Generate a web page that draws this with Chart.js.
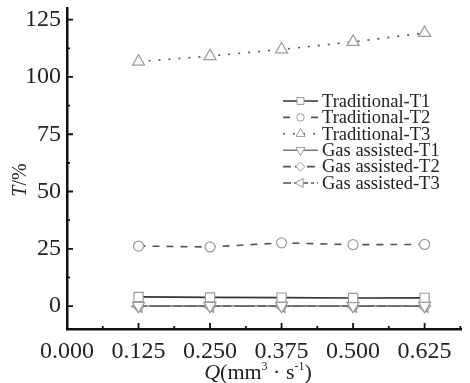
<!DOCTYPE html>
<html>
<head>
<meta charset="utf-8">
<script src="https://cdn.jsdelivr.net/npm/chart.js@4/dist/chart.umd.min.js"></script>
<style>
html, body { margin: 0; padding: 0; background: #fff; }
#wrap { width: 470px; height: 383px; position: relative; }
</style>
</head>
<body>
<div id="wrap"><canvas id="chart"></canvas></div>
<script>
const flowRates = [0.125, 0.250, 0.375, 0.500, 0.625];
const tradT1 = [4.0, 3.8, 3.7, 3.5, 3.6];
const tradT2 = [26.2, 25.8, 27.6, 26.8, 26.9];
const tradT3 = [106.7, 109.1, 112.0, 115.3, 119.2];
const gasT1 = [0.1, 0.1, 0.1, 0.1, 0.1];
const gasT2 = [0, 0, 0, 0, 0];
const gasT3 = [-0.1, -0.1, -0.1, -0.1, -0.1];

const xTicks = [0, 0.125, 0.25, 0.375, 0.5, 0.625];
const yTicks = [0, 25, 50, 75, 100, 125];
const seriesNames = ['Traditional-T1', 'Traditional-T2', 'Traditional-T3',
    'Gas assisted-T1', 'Gas assisted-T2', 'Gas assisted-T3'];

const SERIF = '"Liberation Serif", "Times New Roman", serif';
const MARK = '#9a9a9a';

const toPoints = vals => vals.map((v, i) => ({ x: flowRates[i], y: v }));

function series(label, vals, style) {
    return Object.assign({
        label: label,
        data: toPoints(vals),
        borderWidth: 1.6,
        pointBorderColor: MARK,
        pointBackgroundColor: '#fff',
        pointBorderWidth: 1.2,
        pointRadius: 5.5,
        tension: 0
    }, style);
}

const datasets = [
    series(seriesNames[0], tradT1, { borderColor: '#333', pointStyle: 'rect', pointRadius: 6.5 }),
    series(seriesNames[1], tradT2, { borderColor: '#555', borderDash: [7, 7], pointStyle: 'circle', pointRadius: 5 }),
    series(seriesNames[2], tradT3, { borderColor: '#555', borderDash: [2, 8], pointStyle: 'triangle', pointRadius: 7 }),
    series(seriesNames[3], gasT1, { borderColor: '#777', borderWidth: 1.2, pointStyle: 'triangle', pointRotation: 180, pointRadius: 7 }),
    series(seriesNames[4], gasT2, { borderColor: '#555', borderDash: [8, 4], pointStyle: 'rectRot', pointRadius: 6 }),
    series(seriesNames[5], gasT3, { borderColor: '#555', borderDash: [8, 3, 3, 3], pointStyle: 'triangle', pointRotation: -90, pointRadius: 7 })
];

// small tick marks pointing into the plot, majors and minors
const innerTicks = {
    id: 'innerTicks',
    afterDraw(chart) {
        const { ctx, chartArea, scales: { x, y } } = chart;
        ctx.save();
        ctx.strokeStyle = '#111';
        ctx.lineWidth = 1.8;
        ctx.beginPath();
        yTicks.forEach(v => {
            const py = y.getPixelForValue(v);
            ctx.moveTo(chartArea.left, py); ctx.lineTo(chartArea.left + 6, py);
            const m = v + 12.5;
            if (m <= y.max) {
                const pm = y.getPixelForValue(m);
                ctx.moveTo(chartArea.left, pm); ctx.lineTo(chartArea.left + 3, pm);
            }
        });
        xTicks.forEach(v => {
            const px = x.getPixelForValue(v);
            ctx.moveTo(px, chartArea.bottom); ctx.lineTo(px, chartArea.bottom - 6);
            const m = v + 0.0625;
            if (m <= x.max) {
                const pm = x.getPixelForValue(m);
                ctx.moveTo(pm, chartArea.bottom); ctx.lineTo(pm, chartArea.bottom - 3);
            }
        });
        ctx.stroke();
        ctx.restore();
    }
};

// legend: line segment with marker in the middle, then the name
const lineLegend = {
    id: 'lineLegend',
    afterDraw(chart) {
        const ctx = chart.ctx;
        const x0 = 283, x1 = 318, top = 101, step = 16.4;
        ctx.save();
        chart.data.datasets.forEach((ds, i) => {
            const yy = top + i * step;
            ctx.strokeStyle = ds.borderColor;
            ctx.lineWidth = 1.6;
            ctx.setLineDash(ds.borderDash || []);
            ctx.beginPath();
            ctx.moveTo(x0, yy); ctx.lineTo(x1, yy);
            ctx.stroke();
            ctx.setLineDash([]);
            ctx.strokeStyle = MARK;
            ctx.fillStyle = '#fff';
            ctx.lineWidth = 1;
            Chart.helpers.drawPoint(ctx, {
                pointStyle: ds.pointStyle,
                rotation: ds.pointRotation || 0,
                radius: ds.pointRadius * 0.75,
                borderWidth: 1
            }, (x0 + x1) / 2, yy);
            ctx.fillStyle = '#222';
            ctx.font = '18.5px ' + SERIF;
            ctx.textBaseline = 'middle';
            ctx.textAlign = 'left';
            ctx.fillText(ds.label, x1 + 4, yy + 1);
        });
        ctx.restore();
    }
};

// axis titles with italic symbol and superscripts
const axisTitles = {
    id: 'axisTitles',
    afterDraw(chart) {
        const { ctx } = chart;
        ctx.save();
        ctx.fillStyle = '#222';
        ctx.textBaseline = 'alphabetic';
        ctx.textAlign = 'left';
        const parts = [
            { t: 'Q', f: 'italic 22px ' + SERIF, dy: 0 },
            { t: '(mm', f: '22px ' + SERIF, dy: 0 },
            { t: '3', f: '12px ' + SERIF, dy: -9 },
            { t: ' \u00b7 s', f: '22px ' + SERIF, dy: 0 },
            { t: '-1', f: '12px ' + SERIF, dy: -9 },
            { t: ')', f: '22px ' + SERIF, dy: 0 }
        ];
        let w = 0;
        parts.forEach(p => { ctx.font = p.f; p.w = ctx.measureText(p.t).width; w += p.w; });
        let cx = 258 - w / 2;
        const base = 379;
        parts.forEach(p => { ctx.font = p.f; ctx.fillText(p.t, cx, base + p.dy); cx += p.w; });

        ctx.translate(26, 180);
        ctx.rotate(-Math.PI / 2);
        ctx.font = 'italic 20px ' + SERIF;
        const wT = ctx.measureText('T').width;
        ctx.font = '20px ' + SERIF;
        const wR = ctx.measureText('/%').width;
        const sx = -(wT + wR) / 2;
        ctx.font = 'italic 20px ' + SERIF;
        ctx.fillText('T', sx, 0);
        ctx.font = '20px ' + SERIF;
        ctx.fillText('/%', sx + wT, 0);
        ctx.restore();
    }
};

new Chart(document.getElementById('chart'), {
    type: 'line',
    data: { datasets: datasets },
    options: {
        responsive: true, maintainAspectRatio: false, animation: false,
        layout: { padding: { top: 8, right: -3, left: 0, bottom: 0 } },
        plugins: { legend: { display: false }, tooltip: { enabled: false } },
        scales: {
            x: {
                type: 'linear', min: 0, max: 0.69,
                afterBuildTicks: s => { s.ticks = xTicks.map(v => ({ value: v })); },
                afterFit: s => { s.height = 54; s.paddingLeft = 0; s.paddingRight = 0; },
                grid: { display: false, drawTicks: false, tickLength: 0 },
                border: { display: true, color: '#111', width: 2.5 },
                ticks: {
                    autoSkip: false, maxRotation: 0, padding: 8, color: '#222',
                    font: { family: SERIF, size: 24 },
                    callback: v => v.toFixed(3)
                }
            },
            y: {
                min: -10, max: 130,
                afterBuildTicks: s => { s.ticks = yTicks.map(v => ({ value: v })); },
                afterFit: s => { s.width = 67; s.paddingTop = 0; s.paddingBottom = 0; },
                grid: { display: false, drawTicks: false, tickLength: 0 },
                border: { display: true, color: '#111', width: 2.5 },
                ticks: {
                    padding: 6, color: '#222',
                    font: { family: SERIF, size: 24 }
                }
            }
        }
    },
    plugins: [innerTicks, lineLegend, axisTitles]
});
</script>
</body>
</html>
